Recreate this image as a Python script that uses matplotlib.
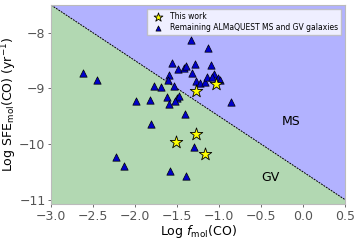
import matplotlib
matplotlib.use("Agg")
import matplotlib.pyplot as plt
import numpy as np

# ALMaQUEST galaxies (triangles)
fmol_rest = [-1.333, -1.135, -1.564, -1.493, -1.421, -1.393, -1.282, -1.094,
             -1.595, -1.317, -1.612, -1.055, -1.779, -1.687, -1.532, -1.270,
             -1.230, -1.162, -1.142, -1.007, -0.983, -1.080, -1.819, -1.619,
             -1.500, -1.481, -1.520, -1.600, -0.856, -2.615, -2.455, -1.994,
             -1.405, -1.815, -1.294, -2.224, -2.129, -1.580, -1.393]
sfe_rest = [-8.126, -8.275, -8.544, -8.652, -8.634, -8.593, -8.562, -8.580,
            -8.754, -8.724, -8.857, -8.742, -8.952, -8.983, -8.965, -8.875,
            -8.904, -8.886, -8.803, -8.814, -8.844, -8.790, -9.216, -9.162,
            -9.173, -9.144, -9.234, -9.275, -9.252, -8.724, -8.844, -9.222,
            -9.455, -9.635, -10.060, -10.240, -10.389, -10.479, -10.581]

# this work (stars)
fmol_this = [-1.031, -1.270, -1.273, -1.517, -1.171]
sfe_this = [-8.916, -9.047, -9.827, -9.963, -10.174]

# dividing line: Log SFE = slope * Log fmol + icpt
slope = -1.0
icpt = -10.5

xlo, xhi = -3.0, 0.5
ylo, yhi = -11.08, -7.5

fig = plt.figure(figsize=(3.6, 2.4), dpi=100)
ax = fig.add_axes([0.142, 0.15, 0.816, 0.829])

xx = np.linspace(xlo, xhi, 200)
yy = slope * xx + icpt
ax.fill_between(xx, yy, yhi, color="#b2b2ff", lw=0)
ax.fill_between(xx, ylo, yy, color="#b2d8b2", lw=0)
ax.plot(xx, yy, color="k", ls="--", lw=0.7, dashes=(2, 1))

ax.scatter(fmol_this, sfe_this, marker="*", s=90, c="yellow",
           edgecolors="k", linewidths=0.6, zorder=4, label="This work")
ax.scatter(fmol_rest, sfe_rest, marker="^", s=28, c="#0000cc",
           edgecolors="k", linewidths=0.5, zorder=3,
           label="Remaining ALMaQUEST MS and GV galaxies")

ax.text(-0.136, -9.6, "MS", fontsize=9, ha="center", va="center")
ax.text(-0.387, -10.61, "GV", fontsize=9, ha="center", va="center")

ax.set_xlim(xlo, xhi)
ax.set_ylim(ylo, yhi)
ax.set_xticks([-3.0, -2.5, -2.0, -1.5, -1.0, -0.5, 0.0, 0.5])
ax.set_yticks([-11, -10, -9, -8])
ax.tick_params(labelsize=9, colors="#555555", length=2.5, width=0.6, pad=1.5)
for s in ax.spines.values():
    s.set_color("#bbbbbb")

ax.set_xlabel(r"Log $f_{\rm mol}$(CO)", fontsize=9, labelpad=0)
ax.set_ylabel(r"Log SFE$_{\rm mol}$(CO) (yr$^{-1}$)", fontsize=9, labelpad=0)

ax.legend(loc="upper right", fontsize=5.5, handletextpad=0.6, markerscale=0.7,
          borderpad=0.4, labelspacing=0.3, framealpha=0.8, edgecolor="#bbbbbb",
          fancybox=False)

fig.savefig("out.png", dpi=100)
